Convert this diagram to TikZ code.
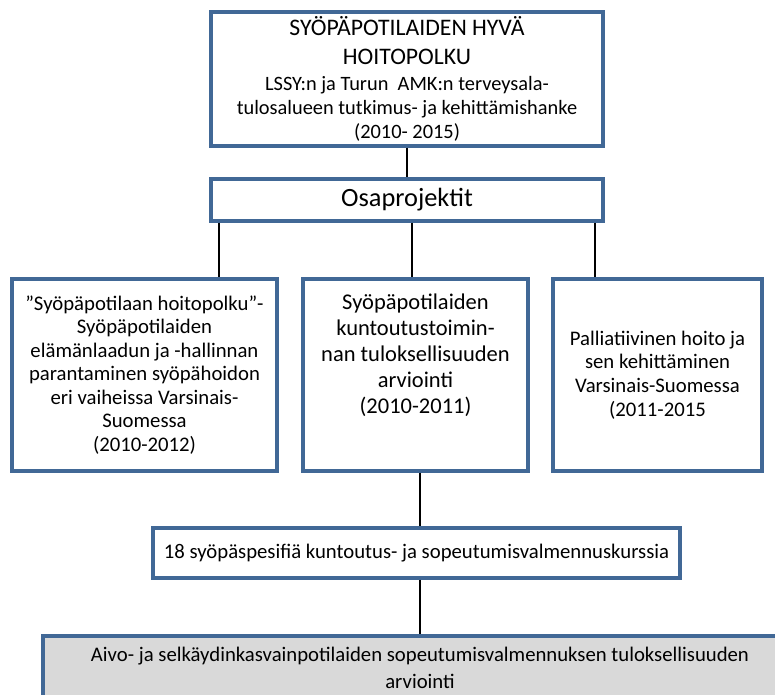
\documentclass[tikz,border=0pt]{standalone}
\usepackage{fontspec}
\setmainfont{Carlito}
\usepackage{tikz}
\usetikzlibrary{positioning}
\definecolor{boxline}{RGB}{65,104,150}
\definecolor{greybg}{RGB}{217,217,217}
\newcommand{\titlesize}{\fontsize{13.5}{16}\selectfont}

\begin{document}
\begin{tikzpicture}[
    x=0.02cm, y=-0.02cm,
    box/.style={rectangle, draw=boxline, line width=1.8pt, fill=white, align=center, inner sep=2pt},
    link/.style={line width=1.1pt, black},
    small/.style={font=\fontsize{11.8}{13.4}\selectfont}
]
    \useasboundingbox (0,0) rectangle (775,695);

    % Boxes
    \node[box, minimum width=7.84cm, minimum height=2.68cm, font=\fontsize{11.6}{13.7}\selectfont] (hanke) at (407,79) {%
        \titlesize SYÖPÄPOTILAIDEN HYVÄ\\[2.5pt]\titlesize HOITOPOLKU\\[1pt]
        LSSY:n ja Turun\ \ AMK:n terveysala-\\
        tulosalueen tutkimus- ja kehittämishanke\\(2010- 2015)};
    \node[box, minimum width=7.84cm, minimum height=0.84cm, font=\fontsize{15}{18}\selectfont] (osa) at (407,200) {Osaprojektit};

    \node[box, small, minimum width=5.3cm, minimum height=3.84cm] (hoito) at (144.5,375) {%
        ”Syöpäpotilaan hoitopolku”-\\Syöpäpotilaiden\\elämänlaadun ja -hallinnan\\
        parantaminen syöpähoidon\\eri vaiheissa Varsinais-\\Suomessa\\(2010-2012)};
    \node[box, minimum width=4.5cm, minimum height=3.84cm, font=\fontsize{12.8}{14.8}\selectfont] (kunto) at (415.5,375) {%
        Syöpäpotilaiden\\kuntoutustoimin-\\nan tuloksellisuuden\\arviointi\\(2010-2011)\\[10pt]\mbox{}};
    \node[box, small, minimum width=4.18cm, minimum height=3.84cm] (pallia) at (657.5,375) {%
        Palliatiivinen hoito ja\\sen kehittäminen\\Varsinais-Suomessa\\(2011-2015};

    \node[box, small, minimum width=10.54cm, minimum height=1.0cm] (kurssi) at (416.5,553) {%
        18 syöpäspesifiä kuntoutus- ja sopeutumisvalmennuskurssia};
    \node[box, fill=greybg, minimum width=15.08cm, minimum height=1.28cm, font=\fontsize{11.8}{15.4}\selectfont] (aivo) at (420,668) {%
        Aivo- ja selkäydinkasvainpotilaiden sopeutumisvalmennuksen tuloksellisuuden\\arviointi};

    % Lines
    \draw[line width=0.6pt] (hanke.south) -- (osa.north);
    \draw[link] (osa.south -| 219,0) -- (hoito.north -| 219,0);
    \draw[link] (osa.south -| 412,0) -- (kunto.north -| 412,0);
    \draw[link] (osa.south -| 595,0) -- (pallia.north -| 595,0);
    \draw[link] (kunto.south -| 420,0) -- (kurssi.north -| 420,0);
    \draw[link] (kurssi.south -| 420,0) -- (aivo.north -| 420,0);
\end{tikzpicture}
\end{document}
